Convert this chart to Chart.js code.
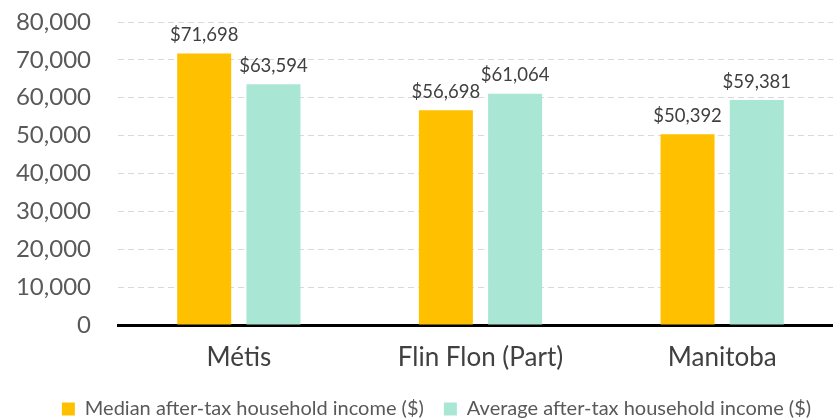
<!DOCTYPE html>
<html>
<head>
<meta charset="utf-8">
<script src="https://cdn.jsdelivr.net/npm/chart.js@4.4.0/dist/chart.umd.min.js"></script>
<style>
  html, body { margin: 0; padding: 0; background: #fff; overflow: hidden; }
  #wrap { width: 843px; height: 419px; }
</style>
</head>
<body>
<div id="wrap"><canvas id="incomeChart"></canvas></div>
<script>
const regions = ["Métis", "Flin Flon (Part)", "Manitoba"];
const medianIncome = [71698, 56698, 50392];
const averageIncome = [63594, 61064, 59381];
const seriesNames = ["Median after-tax household income ($)", "Average after-tax household income ($)"];
const yTicks = [0, 10000, 20000, 30000, 40000, 50000, 60000, 70000, 80000];

const fontFamily = "Lato, 'Open Sans', sans-serif";

// draw "$xx,xxx" above each bar
const barLabels = {
    id: 'barLabels',
    afterDatasetsDraw(chart) {
        const ctx = chart.ctx;
        ctx.save();
        ctx.font = `18.5px ${fontFamily}`;
        ctx.fillStyle = '#404040';
        ctx.textAlign = 'center';
        ctx.textBaseline = 'bottom';
        chart.data.datasets.forEach((ds, i) => {
            chart.getDatasetMeta(i).data.forEach((bar, j) => {
                ctx.fillText('$' + ds.data[j].toLocaleString('en-US'), bar.x, bar.y - 9);
            });
        });
        ctx.restore();
    }
};

// legend sits a bit right of centre in the original
const legendShift = {
    id: 'legendShift',
    afterLayout(chart) {
        chart.legend.left += 15;
        chart.legend.right += 15;
    }
};

const ctx = document.getElementById('incomeChart').getContext('2d');
new Chart(ctx, {
    type: 'bar',
    data: {
        labels: regions,
        datasets: [{
            label: seriesNames[0],
            data: medianIncome,
            backgroundColor: '#ffc000',
            categoryPercentage: 0.573,
            barPercentage: 0.78
        }, {
            label: seriesNames[1],
            data: averageIncome,
            backgroundColor: '#a9e6d3',
            categoryPercentage: 0.573,
            barPercentage: 0.78
        }]
    },
    options: {
        responsive: true,
        maintainAspectRatio: false,
        animation: false,
        layout: { padding: { top: 0, right: 0, left: 0, bottom: -10 } },
        scales: {
            x: {
                afterFit(scale) { scale.height = 54; },
                grid: { display: false, drawTicks: false },
                border: { display: true, color: '#000', width: 3 },
                ticks: { color: '#404040', font: { family: fontFamily, size: 26 }, padding: 17 }
            },
            y: {
                min: 0,
                max: 80000,
                afterFit(scale) { scale.width = 118; scale.paddingTop = 22; },
                afterBuildTicks(scale) { scale.ticks = yTicks.map(v => ({ value: v })); },
                grid: { color: '#d9d9d9', lineWidth: 1, drawTicks: false },
                border: { display: false, dash: [6, 4] },
                ticks: {
                    color: '#595959',
                    font: { family: fontFamily, size: 24 },
                    padding: 27,
                    callback: v => v.toLocaleString('en-US')
                }
            }
        },
        plugins: {
            legend: {
                position: 'bottom',
                labels: {
                    boxWidth: 13,
                    boxHeight: 13,
                    padding: 20,
                    color: '#595959',
                    font: { family: fontFamily, size: 20 }
                }
            },
            tooltip: { enabled: false }
        }
    },
    plugins: [barLabels, legendShift]
});
</script>
</body>
</html>
